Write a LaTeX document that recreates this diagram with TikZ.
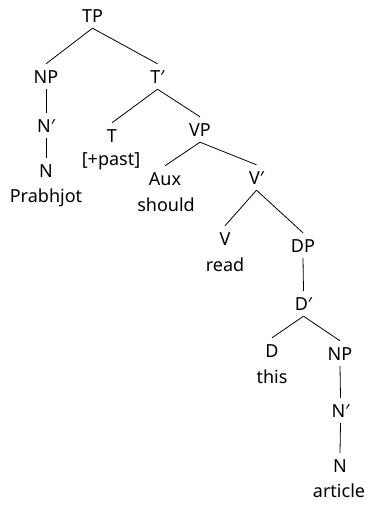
\documentclass[tikz,border=0pt]{standalone}
\usepackage{fontspec}
\setmainfont{Noto Sans}
\begin{document}
\begin{tikzpicture}[x=1pt,y=-1pt,
  cat/.style={font=\fontsize{18}{20}\selectfont, inner xsep=0pt, inner ysep=6pt, text height=13pt, text depth=0pt, anchor=base},
  word/.style={font=\fontsize{18}{20}\selectfont, inner sep=0pt, anchor=base},
  br/.style={draw=black, line width=0.8pt}]
\useasboundingbox (0,0) rectangle (368,522);
\node[cat] (TP) at (92.5,22) {TP};
\node[cat] (NPa) at (46,83) {NP};
\node[cat] (Tb) at (157.5,83) {T′};
\node[cat] (Nba) at (46,132) {N′};
\node[cat] (Na) at (46,177) {N};
\node[word] (prab) at (46,202) {Prabhjot};
\node[cat] (T) at (112,142) {T};
\node[word] (past) at (111,165) {[+past]};
\node[cat] (VP) at (200,136) {VP};
\node[cat] (Aux) at (165,185) {Aux};
\node[word] (should) at (166,211) {should};
\node[cat] (Vb) at (256.5,184) {V′};
\node[cat] (V) at (225,245) {V};
\node[word] (read) at (225,271) {read};
\node[cat] (DP) at (303,252) {DP};
\node[cat] (Db) at (303.5,310) {D′};
\node[cat] (D) at (272,357) {D};
\node[cat] (NPb) at (340,360) {NP};
\node[word] (this) at (272,383) {this};
\node[cat] (Nbb) at (340.5,417) {N′};
\node[cat] (Nb) at (340,472) {N};
\node[word] (article) at (339,497) {article};
\draw[br] (TP.south) -- (NPa.north);
\draw[br] (TP.south) -- (Tb.north);
\draw[br] (NPa.south) -- (Nba.north);
\draw[br] (Nba.south) -- (Na.north);
\draw[br] (Tb.south) -- (T.north);
\draw[br] (Tb.south) -- (VP.north);
\draw[br] (VP.south) -- (Aux.north);
\draw[br] (VP.south) -- (Vb.north);
\draw[br] (Vb.south) -- (V.north);
\draw[br] (Vb.south) -- (DP.north);
\draw[br] (DP.south) -- (Db.north);
\draw[br] (Db.south) -- (D.north);
\draw[br] (Db.south) -- (NPb.north);
\draw[br] (NPb.south) -- (Nbb.north);
\draw[br] (Nbb.south) -- (Nb.north);
\end{tikzpicture}
\end{document}
